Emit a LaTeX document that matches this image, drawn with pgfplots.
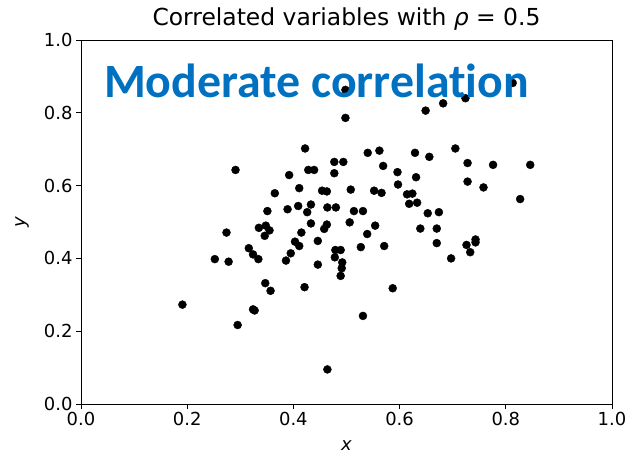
\documentclass[border=0pt]{standalone}
\usepackage{pgfplots}
\pgfplotsset{compat=1.18}
\usepackage{fontspec}
\setmainfont{DejaVu Sans}
\newfontfamily\carlito[Ligatures=NoCommon]{Carlito}
\definecolor{mblue}{HTML}{0070C0}
\begin{document}
\begin{tikzpicture}
\path[use as bounding box] (-81bp,-50bp) rectangle (546bp,404bp);
\begin{axis}[
  scale only axis, width=531bp, height=364bp,
  xmin=0, xmax=1, ymin=0, ymax=1,
  xtick={0,0.2,0.4,0.6,0.8,1}, ytick={0,0.2,0.4,0.6,0.8,1},
  /pgf/number format/fixed, /pgf/number format/precision=1,
  /pgf/number format/fixed zerofill,
  /pgf/number format/assume math mode=true,
  tick align=outside, major tick length=5bp, tick pos=left,
  tick style={black, line width=0.8pt},
  axis line style={line width=0.8pt},
  ticklabel style={font=\fontsize{18}{18}\selectfont},
  xlabel={\textit{x}}, ylabel={\textit{y}},
  xlabel style={at={(axis description cs:0.5,-0.115)}, anchor=center, font=\fontsize{18}{18}\selectfont},
  ylabel style={at={(axis description cs:-0.111,0.5)}, anchor=center, font=\fontsize{18}{18}\selectfont},
  title={Correlated variables with \textit{ρ} = 0.5},
  title style={at={(axis description cs:0.5,1.024)}, anchor=base, font=\fontsize{23.5}{23.5}\selectfont},
]
\addplot[only marks, mark=*, mark size=4bp, black] coordinates {
(0.191,0.273) (0.252,0.398) (0.278,0.391) (0.274,0.471) (0.291,0.643)
(0.295,0.217) (0.316,0.428) (0.324,0.411) (0.334,0.398) (0.324,0.260)
(0.327,0.257) (0.335,0.484) (0.348,0.490) (0.355,0.477) (0.346,0.462)
(0.347,0.332) (0.357,0.311) (0.351,0.530) (0.365,0.579) (0.389,0.535)
(0.392,0.629) (0.386,0.394) (0.395,0.414) (0.403,0.446) (0.411,0.434)
(0.415,0.471) (0.409,0.544) (0.411,0.593) (0.421,0.321) (0.422,0.702)
(0.428,0.643) (0.439,0.643) (0.433,0.548) (0.426,0.527) (0.433,0.496)
(0.446,0.448) (0.446,0.383) (0.454,0.586) (0.463,0.584) (0.464,0.540)
(0.458,0.481) (0.463,0.493) (0.464,0.095) (0.477,0.665) (0.494,0.665)
(0.477,0.634) (0.480,0.540) (0.479,0.423) (0.489,0.423) (0.478,0.403)
(0.492,0.389) (0.491,0.373) (0.489,0.352) (0.498,0.863) (0.498,0.786)
(0.508,0.589) (0.506,0.499) (0.514,0.530) (0.531,0.530) (0.539,0.467)
(0.527,0.431) (0.531,0.242) (0.540,0.690) (0.562,0.696) (0.569,0.654)
(0.552,0.586) (0.566,0.580) (0.554,0.490) (0.571,0.434) (0.587,0.318)
(0.596,0.637) (0.597,0.603) (0.614,0.576) (0.624,0.578) (0.618,0.550)
(0.633,0.553) (0.631,0.623) (0.629,0.690) (0.639,0.482) (0.649,0.806)
(0.653,0.524) (0.656,0.679) (0.670,0.482) (0.670,0.442) (0.674,0.527)
(0.682,0.826) (0.697,0.400) (0.705,0.702) (0.724,0.840) (0.728,0.662)
(0.728,0.611) (0.726,0.437) (0.733,0.417) (0.743,0.452) (0.743,0.444)
(0.758,0.595) (0.776,0.657) (0.813,0.882) (0.827,0.563) (0.846,0.657)
};
\coordinate (tpos) at (axis cs:0.043,0.843);
\end{axis}
\node[anchor=base west, inner sep=0pt, text=mblue,
  font=\carlito\bfseries\fontsize{48}{48}\selectfont] at (tpos) {Moderate correlation};
\end{tikzpicture}
\end{document}
